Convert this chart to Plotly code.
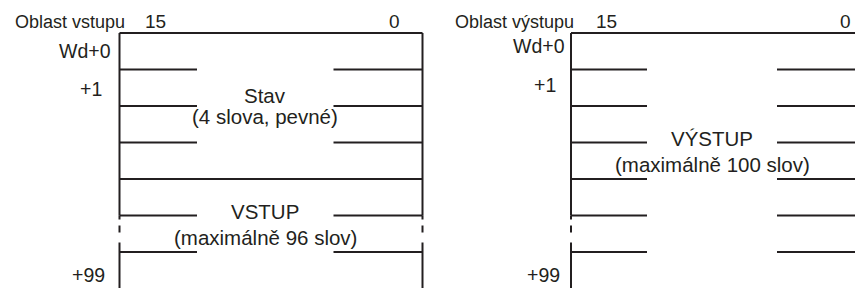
import plotly.graph_objects as go

# ---------------- data ----------------
PANEL_TITLES = ["Oblast vstupu", "Oblast výstupu"]
BIT_LABELS = ["15", "0"]                      # MSB / LSB bit numbers
WORD_LABELS = ["Wd+0", "+1", "+99"]           # word offsets shown at the left
WORD_ROWS = [0, 1, 6]                         # row index of each word label
N_ROWS = 7                                    # word rows drawn per area
BREAK_ROW = 5                                 # row where the word sequence is elided
LEFT_BLOCKS = [                               # (title, subtitle, first row, end row)
    ("Stav", "(4 slova, pevné)", 0, 4),
    ("VSTUP", "(maximálně 96 slov)", 4, 7),
]
RIGHT_BLOCKS = [
    ("VÝSTUP", "(maximálně 100 slov)", 0, 7),
]

# ---------------- layout constants ----------------
WIN_W, WIN_H = 863, 288
BODY_MARGIN = 8                               # default page margin around the plot div
ROW_TOP_PX = 33.0
ROW_H = 36.5
PANEL_X = [119.5, 571.0]
PANEL_W = 303.0
GAPS = [(77.5, 214.0), (76.0, 206.0)]
TITLE_DX = [-107.0, -118.0]
BIT_DX = [35.5, 274.5]
WORD_DX = [[-6.5, -15.5, -12.5], [-4.0, -13.0, -9.0]]
WORD_YSHIFT = [[0, -1, -5], [5, 3, -5]]
TEXT_HALF_GAP = [[10.5, 13], [13]]
INK = "#231f20"
FONT = "Liberation Sans, Arial, Helvetica, sans-serif"
TEXT_VISIBLE_END = N_ROWS - 0.5


def px_to_row(py):
    return (py - ROW_TOP_PX) / ROW_H


fig = go.Figure()
solid_x, solid_y = [], []
dash_x, dash_y = [], []
annotations = []

for p, blocks in enumerate([LEFT_BLOCKS, RIGHT_BLOCKS]):
    x0 = PANEL_X[p]
    x1 = x0 + PANEL_W
    g0, g1 = x0 + GAPS[p][0], x0 + GAPS[p][1]
    starts = {b[2] for b in blocks}
    # horizontal word boundaries
    for r in range(N_ROWS):
        if r in starts:
            solid_x += [x0, x1, None]
            solid_y += [r, r, None]
        else:
            solid_x += [x0, g0, None, g1, x1, None]
            solid_y += [r, r, None, r, r, None]
    # vertical edges (broken in the elided row)
    for xv in (x0, x1):
        solid_x += [xv, xv, None, xv, xv, None]
        solid_y += [0, BREAK_ROW, None, BREAK_ROW + 1, N_ROWS + 1, None]
        dash_x += [xv, xv, None]
        dash_y += [BREAK_ROW, BREAK_ROW + 1, None]
    # block texts
    for k, (title, sub, a, b) in enumerate(blocks):
        yc = a + (min(b, TEXT_VISIBLE_END) - a) / 2
        xc = (g0 + g1) / 2
        hg = TEXT_HALF_GAP[p][k]
        for txt, ys in ((title, hg), (sub, -hg)):
            annotations.append(dict(x=xc, y=yc, text=txt, showarrow=False,
                                    xanchor="center", yanchor="middle", yshift=ys,
                                    font=dict(size=20.5, color=INK, family=FONT)))
    # panel title
    annotations.append(dict(x=x0 + TITLE_DX[p], y=px_to_row(21.5), text=PANEL_TITLES[p],
                            showarrow=False, xanchor="left", yanchor="middle",
                            font=dict(size=18, color=INK, family=FONT)))
    # bit numbers
    for lab, dx in zip(BIT_LABELS, BIT_DX):
        annotations.append(dict(x=x0 + dx, y=px_to_row(21.5), text=lab, showarrow=False,
                                xanchor="center", yanchor="middle",
                                font=dict(size=19, color=INK, family=FONT)))
    # word offsets
    for lab, r, dx, ysh in zip(WORD_LABELS, WORD_ROWS, WORD_DX[p], WORD_YSHIFT[p]):
        annotations.append(dict(x=x0 + dx, y=r + 0.5, text=lab, showarrow=False,
                                xanchor="right", yanchor="middle", yshift=ysh,
                                font=dict(size=19.5, color=INK, family=FONT)))

fig.add_trace(go.Scatter(x=solid_x, y=solid_y, mode="lines",
                         line=dict(color=INK, width=2), hoverinfo="skip"))
fig.add_trace(go.Scatter(x=dash_x, y=dash_y, mode="lines",
                         line=dict(color=INK, width=2, dash="4px,6px,7px,10px,20px"),
                         hoverinfo="skip"))

# the plot div sits BODY_MARGIN px inside the window, so the figure covers the rest
fig.update_layout(
    width=WIN_W - BODY_MARGIN, height=WIN_H - BODY_MARGIN,
    margin=dict(l=0, r=0, t=0, b=0),
    paper_bgcolor="white", plot_bgcolor="white",
    showlegend=False,
    annotations=annotations,
    xaxis=dict(range=[BODY_MARGIN, WIN_W], visible=False, fixedrange=True),
    yaxis=dict(range=[px_to_row(WIN_H), px_to_row(BODY_MARGIN)], visible=False,
               fixedrange=True),
)

fig.write_html("out.html")
